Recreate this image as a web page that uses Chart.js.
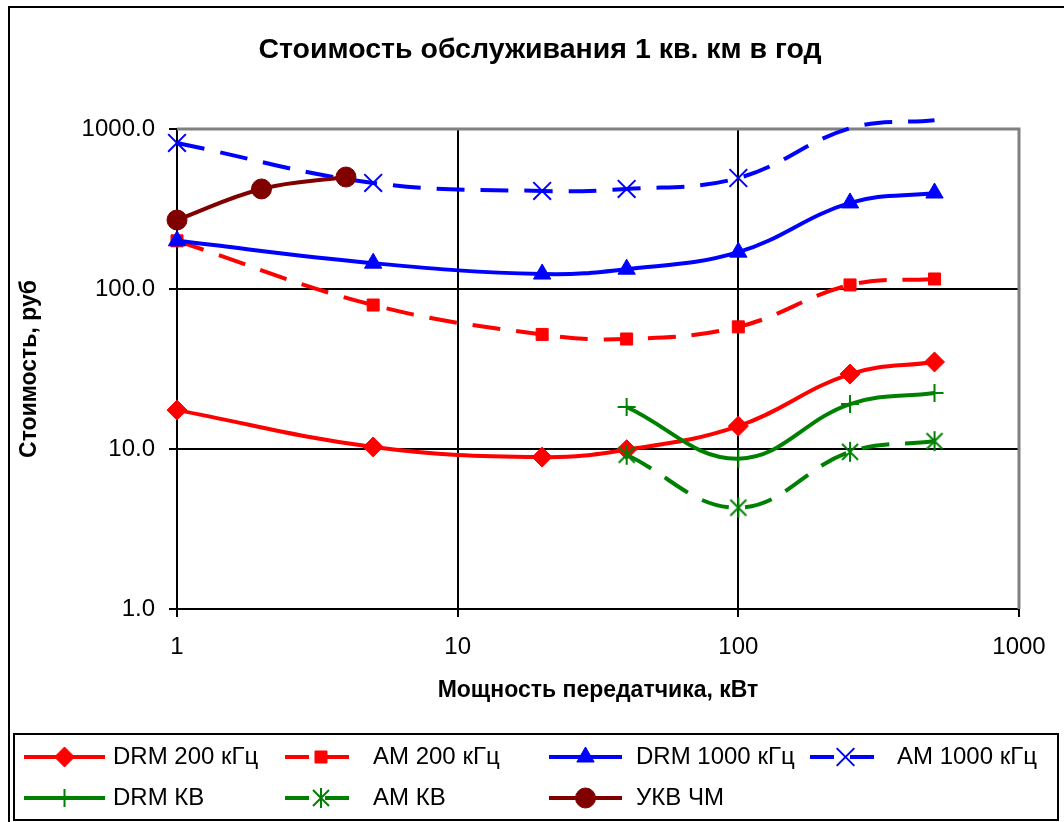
<!DOCTYPE html>
<html>
<head>
<meta charset="utf-8">
<script src="https://cdn.jsdelivr.net/npm/chart.js@4.4.1/dist/chart.umd.min.js"></script>
<style>
  html, body { margin: 0; padding: 0; background: #fff; }
  #wrap { width: 1064px; height: 822px; position: relative; }
</style>
</head>
<body>
<div id="wrap"><canvas id="c" width="1064" height="822"></canvas></div>
<script>
// Transmitter power, kW (MW / LW bands)
const powerMW = [1, 5, 20, 40, 100, 250, 500];
// Cost per sq. km per year, rub
const drm200  = [17.5, 10.3, 8.9, 9.9, 13.9, 29.4, 35.0];
const am200   = [200, 79.4, 52.0, 48.7, 58.0, 106, 115.5];
const drm1000 = [200, 145, 124, 133, 170, 345, 398];
const am1000  = [818, 460, 410, 422, 494, 1010, 1135];
// Short wave
const powerHF = [40, 100, 250, 500];
const drmHF   = [18.3, 8.7, 19.1, 22.4];
const amHF    = [9.2, 4.3, 9.6, 11.2];
// VHF FM
const powerFM = [1, 2, 4];
const fmVHF   = [270, 422, 501];

const xTicks = [1, 10, 100, 1000];
const yTicks = [1, 10, 100, 1000];
const yMax = 1000;

const chartTitle = 'Стоимость обслуживания 1 кв. км в год';
const FONT = '"Liberation Sans", Arial, sans-serif';
const RED = '#ff0000', BLUE = '#0000ff', GREEN = '#008000', MAROON = '#800000';
const DASH = [28, 16];

// asterisk marker: a diagonal cross with a vertical bar
function makeAsterisk(color) {
  const cv = document.createElement('canvas');
  cv.width = 22; cv.height = 22;
  const g = cv.getContext('2d');
  g.strokeStyle = color; g.lineWidth = 2;
  g.beginPath();
  g.moveTo(3, 3); g.lineTo(19, 19);
  g.moveTo(3, 19); g.lineTo(19, 3);
  g.moveTo(11, 1); g.lineTo(11, 21);
  g.stroke();
  return cv;
}
const asterisk = makeAsterisk(GREEN);

const pts = (xs, ys) => xs.map((x, i) => ({ x: x, y: ys[i] }));
// markers outside the plot area are not drawn
const inside = r => ctx => (ctx.raw && ctx.raw.y > yMax ? 0 : r);

const seriesDefs = [
  { label: 'DRM 200 кГц',  xs: powerMW, ys: drm200,  color: RED,    dash: [],   style: 'rectRot',  r: 10, pbw: 1 },
  { label: 'AM 200 кГц',   xs: powerMW, ys: am200,   color: RED,    dash: DASH, style: 'rect',     r: 8.5, pbw: 1 },
  { label: 'DRM 1000 кГц', xs: powerMW, ys: drm1000, color: BLUE,   dash: [],   style: 'triangle', r: 10, pbw: 1 },
  { label: 'AM 1000 кГц',  xs: powerMW, ys: am1000,  color: BLUE,   dash: DASH, style: 'crossRot', r: 12.5, pbw: 2 },
  { label: 'DRM КВ',       xs: powerHF, ys: drmHF,   color: GREEN,  dash: [],   style: 'cross',    r: 9, pbw: 2 },
  { label: 'AM КВ',        xs: powerHF, ys: amHF,    color: GREEN,  dash: DASH, style: asterisk,   r: 10, pbw: 2 },
  { label: 'УКВ ЧМ',       xs: powerFM, ys: fmVHF,   color: MAROON, dash: [],   style: 'circle',   r: 10, pbw: 1 }
];

const datasets = seriesDefs.map((s, i) => ({
  label: s.label,
  data: pts(s.xs, s.ys),
  borderColor: s.color,
  backgroundColor: s.color,
  borderWidth: 4,
  borderDash: s.dash,
  tension: 0.4,
  cubicInterpolationMode: 'default',
  capBezierPoints: false,
  fill: false,
  pointStyle: s.style,
  pointRadius: inside(s.r),
  pointHoverRadius: inside(s.r),
  pointBorderWidth: s.pbw,
  pointBorderColor: s.color,
  pointBackgroundColor: s.color,
  clip: false,
  order: seriesDefs.length - i
}));

// chart frame, title, plot-area border and bottom legend
const framePlugin = {
  id: 'frame',
  beforeDraw(chart) {
    const c = chart.ctx;
    c.save();
    c.fillStyle = '#fff';
    c.fillRect(0, 0, chart.width, chart.height);
    c.strokeStyle = '#000';
    c.lineWidth = 2;
    c.strokeRect(9, 7, 1080, 860);
    c.fillStyle = '#000';
    c.font = 'bold 28.5px ' + FONT;
    c.textAlign = 'center';
    c.textBaseline = 'middle';
    c.fillText(chartTitle, 540, 50);
    c.restore();
  },
  beforeDatasetsDraw(chart) {
    const a = chart.chartArea, c = chart.ctx;
    c.save();
    c.strokeStyle = '#808080';
    c.lineWidth = 3;
    c.beginPath();
    c.moveTo(a.left, a.top);
    c.lineTo(a.right, a.top);
    c.lineTo(a.right, a.bottom);
    c.stroke();
    c.restore();
  },
  afterDraw(chart) {
    const c = chart.ctx;
    c.save();
    c.strokeStyle = '#000';
    c.lineWidth = 2;
    c.strokeRect(14, 734, 1044, 86);
    const cols = [[24, 105, 113], [285, 357, 373], [549, 622, 636], [810, 881, 897]];
    const rows = [757, 798];
    c.font = '24px ' + FONT;
    c.textBaseline = 'middle';
    c.textAlign = 'left';
    seriesDefs.forEach((s, i) => {
      const col = cols[i % 4], y = rows[Math.floor(i / 4)];
      c.strokeStyle = s.color;
      c.fillStyle = s.color;
      c.lineWidth = 4;
      c.setLineDash(s.dash.length ? [24, 16] : []);
      c.beginPath();
      c.moveTo(col[0], y);
      c.lineTo(col[1], y);
      c.stroke();
      c.setLineDash([]);
      c.lineWidth = s.pbw;
      Chart.helpers.drawPoint(c, { pointStyle: s.style, radius: s.r, rotation: 0, borderWidth: s.pbw }, (col[0] + col[1]) / 2, y);
      c.fillStyle = '#000';
      c.fillText(s.label, col[2], y);
    });
    c.restore();
  }
};

new Chart(document.getElementById('c'), {
  type: 'line',
  data: { datasets: datasets },
  plugins: [framePlugin],
  options: {
    responsive: false,
    animation: false,
    devicePixelRatio: 1,
    layout: { padding: { left: 0, right: 45, top: 129, bottom: 0 } },
    plugins: {
      legend: { display: false },
      tooltip: { enabled: false },
      title: { display: false }
    },
    scales: {
      x: {
        type: 'logarithmic',
        min: 1, max: 1000,
        afterBuildTicks: s => { s.ticks = xTicks.map(v => ({ value: v })); },
        afterFit: s => { s.height = 213; },
        ticks: {
          callback: v => String(v),
          color: '#000',
          font: { family: FONT, size: 24 },
          padding: 16,
          autoSkip: false,
          maxRotation: 0
        },
        grid: {
          color: c => (c.tick && c.tick.value === 1000 ? 'rgba(0,0,0,0)' : '#000'),
          tickColor: '#000',
          lineWidth: 2,
          tickLength: 8
        },
        border: { color: '#000', width: 2 },
        title: {
          display: true,
          text: 'Мощность передатчика, кВт',
          color: '#000',
          font: { family: FONT, size: 23, weight: 'bold' },
          padding: { top: 0, bottom: 118 }
        }
      },
      y: {
        type: 'logarithmic',
        min: 1, max: yMax,
        afterBuildTicks: s => { s.ticks = yTicks.map(v => ({ value: v })); },
        afterFit: s => { s.width = 177; },
        ticks: {
          callback: v => Number(v).toFixed(1),
          color: '#000',
          font: { family: FONT, size: 24 },
          padding: 14,
          autoSkip: false
        },
        grid: {
          color: c => (c.tick && c.tick.value === 1000 ? 'rgba(0,0,0,0)' : '#000'),
          tickColor: '#000',
          lineWidth: 2,
          tickLength: 8
        },
        border: { color: '#000', width: 2 },
        title: {
          display: true,
          text: 'Стоимость, руб',
          color: '#000',
          font: { family: FONT, size: 23, weight: 'bold' },
          padding: { top: 16, bottom: 0 }
        }
      }
    }
  }
});
</script>
</body>
</html>
